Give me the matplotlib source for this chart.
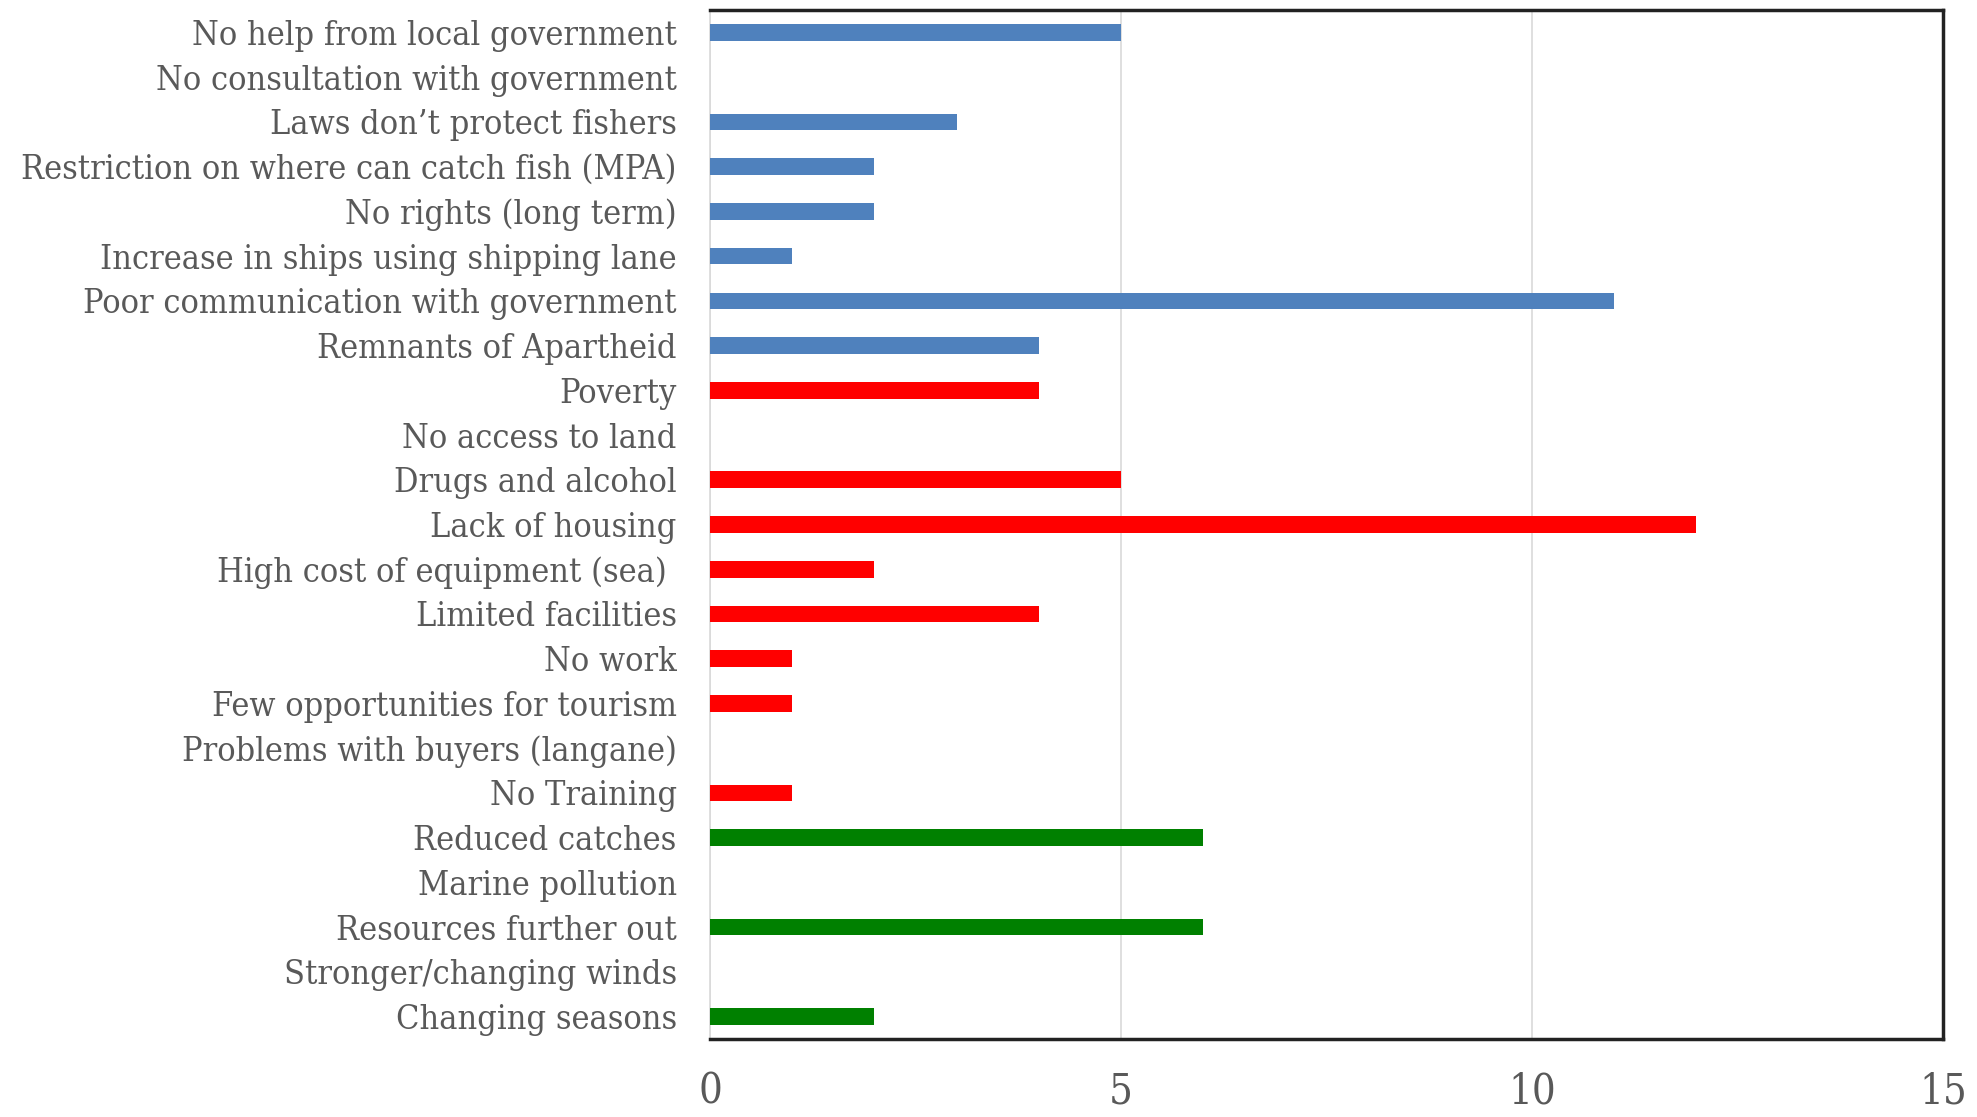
import matplotlib.pyplot as plt

categories = ['No help from local government', 'No consultation with government',
              'Laws don\u2019t protect fishers', 'Restriction on where can catch fish (MPA)',
              'No rights (long term)', 'Increase in ships using shipping lane',
              'Poor communication with government', 'Remnants of Apartheid',
              'Poverty', 'No access to land', 'Drugs and alcohol', 'Lack of housing',
              'High cost of equipment (sea) ', 'Limited facilities', 'No work',
              'Few opportunities for tourism', 'Problems with buyers (langane)', 'No Training',
              'Reduced catches', 'Marine pollution', 'Resources further out',
              'Stronger/changing winds', 'Changing seasons']
values = [5, 0, 3, 2, 2, 1, 11, 4,
          4, 0, 5, 12, 2, 4, 1, 1, 0, 1,
          6, 0, 6, 0, 2]
groups = ['gov'] * 8 + ['social'] * 10 + ['env'] * 5
group_colors = {'gov': '#4F81BD', 'social': '#FF0000', 'env': '#008000'}
xticks = [0, 5, 10, 15]

plt.rcParams['font.family'] = ['DejaVu Serif']

fig = plt.figure(figsize=(19.77, 11.17), dpi=100)
ax = fig.add_axes([710 / 1977, 1 - 1039 / 1117, (1943 - 710) / 1977, (1039 - 10) / 1117])

y = list(range(len(categories)))
colors = [group_colors[g] for g in groups]
ax.barh(y, values, height=0.37, color=colors, zorder=3)

ax.set_ylim(len(categories) - 0.5, -0.5)
ax.set_xlim(0, 15)
ax.set_xticks(xticks)
ax.set_xticklabels([str(t) for t in xticks], fontsize=30, color='#595959', fontstretch='condensed')
ax.set_yticks(y)
ax.set_yticklabels(categories, fontsize=24.5, color='#595959', fontstretch='condensed')
ax.tick_params(axis='both', length=0)
ax.tick_params(axis='x', pad=23)
ax.tick_params(axis='y', pad=24)
ax.grid(axis='x', color='#D9D9D9', linewidth=1.2, zorder=0)

ax.spines['left'].set_color('#D9D9D9')
ax.spines['left'].set_linewidth(1.2)
for s in ['top', 'right', 'bottom']:
    ax.spines[s].set_color('#222222')
    ax.spines[s].set_linewidth(2.5)

fig.savefig('out.png', dpi=100, facecolor='white')
